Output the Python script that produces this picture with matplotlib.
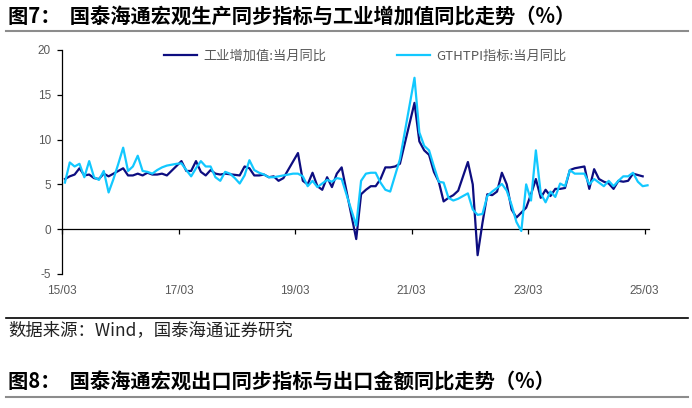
import matplotlib
matplotlib.use('Agg')
import matplotlib.pyplot as plt
from matplotlib.lines import Line2D
import numpy as np

plt.rcParams['font.family'] = ['Noto Sans CJK SC', 'DejaVu Sans']
plt.rcParams['axes.unicode_minus'] = False

# ---------------- data ----------------
# month index 0 = 2015-03 ... 120 = 2025-03
n_months = 121
tick_months = [0, 24, 48, 72, 96, 120]
tick_labels = ['15/03', '17/03', '19/03', '21/03', '23/03', '25/03']
y_ticks = [-5, 0, 5, 10, 15, 20]

series_names = ['工业增加值:当月同比', 'GTHTPI指标:当月同比']

N = None
ip_yoy = [
    5.6, 5.9, 6.1, 6.8, 6.0, 6.1, 5.7, 5.6, 6.2, 5.9,            # 2015 Mar-Dec
    N, N, 6.8, 6.0, 6.0, 6.2, 6.0, 6.3, 6.1, 6.1, 6.2, 6.0,      # 2016
    N, N, 7.6, 6.5, 6.5, 7.6, 6.4, 6.0, 6.6, 6.2, 6.1, 6.2,      # 2017
    N, N, 6.0, 7.0, 6.8, 6.0, 6.0, 6.1, 5.8, 5.9, 5.4, 5.7,      # 2018
    N, N, 8.5, 5.4, 5.0, 6.3, 4.8, 4.4, 5.8, 4.7, 6.2, 6.9,      # 2019
    N, N, -1.1, 3.9, 4.4, 4.8, 4.8, 5.6, 6.9, 6.9, 7.0, 7.3,     # 2020
    N, N, 14.1, 9.8, 8.8, 8.3, 6.4, 5.3, 3.1, 3.5, 3.8, 4.3,     # 2021
    N, 7.5, 5.0, -2.9, 0.7, 3.9, 3.8, 4.2, 6.3, 5.0, 2.2, 1.3,   # 2022
    N, 2.4, 3.9, 5.6, 3.5, 4.4, 3.7, 4.5, 4.5, 4.6, 6.6, 6.8,    # 2023
    N, 7.0, 4.5, 6.7, 5.6, 5.3, 5.1, 4.5, 5.4, 5.3, 5.4, 6.2,    # 2024
    N, 5.9, N,                                                   # 2025 Jan-Mar
]

gthtpi_yoy = [
    5.2, 7.45, 7.0, 7.3, 5.8, 7.6, 5.8, 5.5, 6.5, 4.1,           # 2015 Mar-Dec
    5.6, 7.3, 9.1, 6.5, 7.0, 8.2, 6.5, 6.4, 6.2, 6.6, 6.9, 7.1,  # 2016
    7.2, 7.3, 7.35, 6.6, 5.9, 6.8, 7.6, 7.0, 7.0, 5.8, 5.4, 6.4, # 2017
    6.2, 5.7, 5.1, 6.0, 7.7, 6.6, 6.3, 6.1, 5.8, 5.8, 5.9, 6.0,  # 2018
    6.1, 6.2, 6.2, 5.9, 4.8, 5.4, 4.7, 5.1, 5.5, 5.3, 5.7, 5.6,  # 2019
    N, N, 0.4, 5.4, 6.2, 6.3, 6.3, 5.2, 4.4, 4.2, 6.0, 7.8,      # 2020
    N, N, 16.9, 10.8, 9.3, 8.8, 7.0, 5.3, 5.2, 3.5, 3.2, 3.4,    # 2021
    3.7, 4.0, 2.2, 1.6, 1.7, 3.7, 4.2, 4.6, 5.05, 4.3, 2.7, 0.8, # 2022
    -0.2, 5.0, 3.2, 8.8, 4.0, 3.0, 4.2, 3.6, 5.1, 4.8, 6.6, 6.2, # 2023
    6.2, 6.2, 5.0, 5.6, 5.2, 4.8, 5.4, 4.8, 5.4, 5.9, 5.9, 6.3,  # 2024
    5.3, 4.8, 4.9,                                               # 2025 Jan-Mar
]

# ---------------- figure ----------------
W, H = 692, 408
fig = plt.figure(figsize=(W / 100, H / 100), dpi=100)

ax_l, ax_r, ax_t, ax_b = 62, 649, 50, 274
ax = fig.add_axes([ax_l / W, 1 - ax_b / H, (ax_r - ax_l) / W, (ax_b - ax_t) / H])

x = np.arange(n_months) + 0.6
ip = np.array([np.nan if v is None else v for v in ip_yoy], dtype=float)
gt = np.array([np.nan if v is None else v for v in gthtpi_yoy], dtype=float)
m1 = ~np.isnan(ip)
m2 = ~np.isnan(gt)

dark = '#0D0D80'
light = '#12C8FF'
ax.plot(x[m1], ip[m1], color=dark, lw=1.6, label=series_names[0], solid_joinstyle='round')
ax.plot(x[m2], gt[m2], color=light, lw=1.6, label=series_names[1], solid_joinstyle='round')

ymin, ymax = -5, 20
ax.set_ylim(ymin, ymax)
ax.set_xlim(0, 120.9)
ax.set_yticks(y_ticks)
ax.set_xticks(tick_months)
ax.set_xticklabels(tick_labels)

for s in ['top', 'right', 'bottom']:
    ax.spines[s].set_visible(False)
ax.spines['left'].set_color('black')
ax.spines['left'].set_linewidth(0.9)

gray = '#595959'
ax.tick_params(axis='y', direction='out', length=3.5, width=0.9, color='black',
               labelcolor=gray, labelsize=8.5, pad=4.5)
ax.tick_params(axis='x', length=0, labelcolor=gray, labelsize=8.5, pad=8)
for lab in ax.get_yticklabels() + ax.get_xticklabels():
    lab.set_fontfamily(['Liberation Sans', 'DejaVu Sans'])

# zero line acting as category axis
zero_pos = (0 - ymin) / (ymax - ymin)
sec = ax.secondary_xaxis(zero_pos)
sec.set_xticks(tick_months)
sec.tick_params(axis='x', direction='out', length=3.5, width=0.9, color='black',
                labelbottom=False)
sec.spines['bottom'].set_color('black')
sec.spines['bottom'].set_linewidth(0.9)

leg = ax.legend(loc='upper center', bbox_to_anchor=(0.517, 1.0), ncol=2,
                frameon=False, fontsize=9.5, handlelength=2.5, handletextpad=0.45,
                columnspacing=5.4, borderaxespad=0, borderpad=0)
for t in leg.get_texts():
    t.set_color(gray)

# ---------------- surrounding texts ----------------
fig.text(8 / W, 1 - 17 / H, '图7：  国泰海通宏观生产同步指标与工业增加值同比走势（%）',
         fontsize=14.6, fontweight='bold', va='center', ha='left', color='black')
fig.add_artist(Line2D([6 / W, 688 / W], [1 - 31 / H] * 2, color='#8C8C8C', lw=1.5))

fig.add_artist(Line2D([6 / W, 688 / W], [1 - 318 / H] * 2, color='black', lw=1.2))
fig.text(8 / W, 1 - 330 / H, '数据来源：Wind，国泰海通证券研究',
         fontsize=12.5, va='center', ha='left', color='#222222')

fig.text(8 / W, 1 - 382 / H, '图8：  国泰海通宏观出口同步指标与出口金额同比走势（%）',
         fontsize=14.6, fontweight='bold', va='center', ha='left', color='black')
fig.add_artist(Line2D([6 / W, 688 / W], [1 - 397 / H] * 2, color='#8C8C8C', lw=1.5))

fig.savefig('out.png', dpi=100)
